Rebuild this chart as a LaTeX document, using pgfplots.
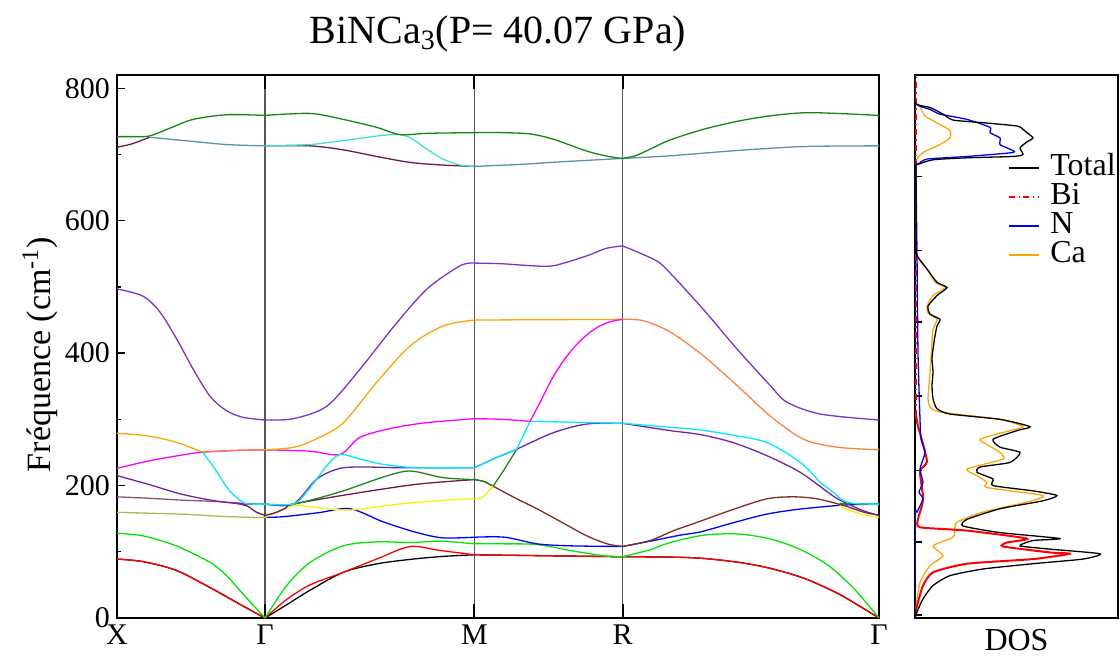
\documentclass[border=0pt]{standalone}
\usepackage{fontspec}
\setmainfont{Liberation Serif}
\usepackage{pgfplots}
\pgfplotsset{compat=1.18}
\definecolor{cLime}{RGB}{0,230,0}
\definecolor{cYel}{RGB}{255,240,0}
\definecolor{cMar}{RGB}{112,24,72}
\definecolor{cBrown}{RGB}{125,45,35}
\definecolor{cPur}{RGB}{120,32,170}
\definecolor{cDGreen}{RGB}{34,130,34}
\definecolor{cMag}{RGB}{255,0,255}
\definecolor{cCyan}{RGB}{0,235,255}
\definecolor{cOrange}{RGB}{255,165,0}
\definecolor{cCoral}{RGB}{255,128,64}
\definecolor{cBViolet}{RGB}{125,50,205}
\definecolor{cDMar}{RGB}{112,24,80}
\definecolor{cTurq}{RGB}{64,224,208}
\definecolor{cTeal}{RGB}{85,150,160}
\definecolor{cGreen}{RGB}{20,135,20}
\definecolor{cOlive}{RGB}{180,180,90}
\definecolor{cMauve}{RGB}{140,80,120}
\definecolor{cNblue}{RGB}{0,0,255}
\newcommand{\tickfont}{\fontsize{15}{18}\selectfont}
\newcommand{\bnd}[2]{\addplot[color=#1, line width=0.65pt, smooth, forget plot] coordinates {#2};}
\begin{document}
\begin{tikzpicture}
\useasboundingbox (0,0) rectangle (560pt,327.5pt);
\begin{axis}[
  at={(58.5pt,18.5pt)}, anchor=south west,
  scale only axis, width=381pt, height=271.5pt,
  xmin=0, xmax=2.5731, ymin=0, ymax=820,
  xtick={0,0.5,1.2071,1.7071,2.5731},
  xticklabels={X,Γ,M,R,Γ},
  ytick={0,200,400,600,800}, minor ytick={100,300,500,700},
  tick align=inside, ytick pos=left, xtick pos=both,
  xtick style={/pgfplots/major tick length=7pt, line width=1pt, black},
  ytick style={/pgfplots/major tick length=4pt, /pgfplots/minor tick length=2.2pt, line width=0.7pt, black},
  xmajorgrids, major x grid style={black!65, line width=0.7pt},
  tick label style={font=\tickfont},
  /pgf/number format/assume math mode=true,
  axis line style={line width=0.7pt},
  ylabel={Fréquence (cm\textsuperscript{-1})},
  ylabel style={font=\fontsize{17}{20}\selectfont, at={(axis description cs:-0.101,0.485)}, anchor=center},
  title={BiNCa\textsubscript{3}(P= 40.07 GPa)},
  title style={font=\fontsize{20}{23}\selectfont, at={(axis description cs:0.5,1)}, anchor=base, yshift=10pt},
]
% ---------- X - Gamma ----------
\bnd{black}{(0,89)(0.09,85)(0.2,72)(0.314,46)(0.426,18)(0.5,0)}
\bnd{red}{(0,89)(0.09,85)(0.2,72)(0.314,46)(0.426,18)(0.5,0)}
\bnd{cLime}{(0,128)(0.089,124)(0.2,109)(0.314,84)(0.37,64)(0.426,36)(0.5,0)}
\bnd{cOlive}{(0,159.5)(0.21,157)(0.33,154)(0.45,152)(0.5,152)}
\bnd{cMauve}{(0,183)(0.1,181)(0.22,178)(0.33,176)(0.43,173)(0.5,172)}
\bnd{cMar}{(0.40,173.5)(0.44,169)(0.47,160)(0.5,155)}
\bnd{cPur}{(0,215)(0.105,202)(0.218,187)(0.331,177)(0.43,172)(0.5,172)}
\bnd{cMag}{(0,226)(0.105,237)(0.218,246)(0.289,250.5)(0.4,253)(0.5,254)}
\bnd{cOrange}{(0,279)(0.105,275)(0.196,266)(0.252,257)(0.289,250.5)}
\bnd{cCoral}{(0.289,250.5)(0.4,253)(0.5,254)}
\bnd{cCyan}{(0.289,250.5)(0.331,225)(0.375,195)(0.409,180)(0.432,173)(0.46,172)(0.5,172)}
\bnd{cBViolet}{(0,497)(0.088,486)(0.145,462)(0.202,421)(0.257,376)(0.314,335)(0.37,313)(0.426,303)(0.5,299)}
\bnd{cDMar}{(0,711)(0.05,716)(0.11,726)}
\bnd{cTeal}{(0.11,726)(0.25,720)(0.37,715)(0.5,713)}
\bnd{cGreen}{(0,727)(0.06,727)(0.11,728)(0.18,740)(0.257,753)(0.37,760)(0.5,759)}
% ---------- Gamma - M ----------
\bnd{black}{(0.5,0)(0.573,20)(0.652,42)(0.764,69)(0.88,82)(1.0,89)(1.1,93)(1.2071,95.5)}
\bnd{red}{(0.5,0)(0.573,28)(0.652,50)(0.764,69)(0.882,90)(0.99,108)(1.09,102)(1.2071,95.5)}
\bnd{cLime}{(0.5,0)(0.573,49)(0.652,84)(0.764,109)(0.877,115)(0.99,114)(1.09,116)(1.2071,112)}
\bnd{blue}{(0.5,152)(0.562,153)(0.68,159)(0.787,165)(0.9,145)(1.013,129)(1.1,121)(1.2071,122)}
\bnd{cYel}{(0.5,152)(0.54,160)(0.6,170)(0.67,167)(0.787,163)(0.95,172)(1.125,178.5)(1.2071,180)}
\bnd{cMar}{(0.5,155)(0.535,159)(0.57,166)(0.595,172)(0.787,187)(1.013,202)(1.2071,209)}
\bnd{cPur}{(0.5,172)(0.595,172)(0.675,210)(0.753,226)(0.84,228)(0.95,227)(1.2071,227)}
\bnd{cDGreen}{(0.5,172)(0.595,172)(0.75,190)(0.9,213)(0.99,222)(1.1,212)(1.2071,209)}
\bnd{cMag}{(0.5,254)(0.65,252)(0.753,247)(0.821,273)(0.932,287)(1.046,295)(1.2071,301)}
\bnd{cOrange}{(0.5,254)(0.6,258)(0.68,272)(0.765,295)(0.877,356)(0.99,411)(1.101,441)(1.2071,450)}
\bnd{cCyan}{(0.5,172)(0.595,172)(0.64,190)(0.709,230)(0.753,247)(0.82,240)(0.899,232)(1.013,227)(1.2071,227)}
\bnd{cBViolet}{(0.5,299)(0.595,301)(0.709,320)(0.821,376)(0.936,441)(1.047,497)(1.159,532)(1.2071,536)}
\bnd{cDMar}{(0.5,713)(0.652,713)(0.764,707)(0.877,697)(0.99,688)(1.101,684)(1.2071,682)}
\bnd{cTurq}{(0.5,713)(0.652,715)(0.764,721)(0.956,730)(1.046,708)(1.101,693)(1.159,684)(1.2071,682)}
\bnd{cGreen}{(0.5,759)(0.652,762)(0.764,753)(0.877,741)(0.956,730)(1.05,732)(1.2071,733)}
% ---------- M - R ----------
\bnd{black}{(1.2071,95.5)(1.45,94)(1.7071,92.5)}
\bnd{red}{(1.2071,95.5)(1.45,94)(1.7071,92.5)}
\bnd{cLime}{(1.2071,112)(1.3,112)(1.418,111)(1.53,102)(1.643,94)(1.7071,92.5)}
\bnd{blue}{(1.2071,122)(1.31,122)(1.418,112)(1.53,109)(1.7071,108)}
\bnd{cBrown}{(1.2071,209)(1.24,206)(1.27,199)(1.35,180)(1.418,165)(1.5,145)(1.587,124)(1.655,112)(1.7071,108)}
\bnd{cDGreen}{(1.2071,209)(1.24,206)(1.27,199)}
\bnd{cYel}{(1.2071,180)(1.235,183)(1.27,199)}
\bnd{cDGreen}{(1.27,199)(1.31,226)(1.35,255)}
\bnd{cPur}{(1.2071,227)(1.27,240)(1.35,255)(1.474,280)(1.587,293)(1.7071,294)}
\bnd{cCyan}{(1.2071,227)(1.27,240)(1.35,255)}
\bnd{cCyan}{(1.35,255)(1.395,297)}
\bnd{cCyan}{(1.395,297)(1.5,296)(1.6,295)(1.7071,294)}
\bnd{cMag}{(1.2071,301)(1.3,300)(1.395,297)}
\bnd{cOrange}{(1.2071,450)(1.45,450.5)(1.7071,451)}
\bnd{cMag}{(1.395,297)(1.43,327)(1.47,362)(1.51,390)(1.55,412)(1.59,429)(1.63,441)(1.67,448)(1.7071,451)}
\bnd{cBViolet}{(1.2071,536)(1.3,535)(1.4,532)(1.474,532)(1.587,547)(1.65,558)(1.7071,562)}
\bnd{cTeal}{(1.2071,682)(1.36,685)(1.5,689)(1.7071,694)}
\bnd{cGreen}{(1.2071,733)(1.3,733)(1.395,731)(1.474,723)(1.587,705)(1.66,697)(1.7071,694)}
% ---------- R - Gamma ----------
\bnd{black}{(1.7071,92.5)(1.868,92)(1.98,90)(2.1,84)(2.206,75)(2.32,60)(2.43,38)(2.5,20)(2.5731,0)}
\bnd{red}{(1.7071,92.5)(1.868,92)(1.98,90)(2.1,84)(2.206,75)(2.32,60)(2.43,38)(2.5,20)(2.5731,0)}
\bnd{cLime}{(1.7071,92.5)(1.8,103)(1.868,114)(1.98,125)(2.094,127)(2.2,120)(2.3,105)(2.4,80)(2.487,45)(2.5731,0)}
\bnd{blue}{(1.7071,108)(1.812,117)(1.9,125)(1.97,130)(2.082,144)(2.195,157)(2.307,164.5)(2.454,170.6)(2.5731,172)}
\bnd{cBrown}{(1.7071,108)(1.8,117)(1.88,132)(1.95,143)(2.081,164)(2.195,180)(2.284,183)(2.364,180)(2.453,170)(2.52,160)(2.5731,155)}
\bnd{cYel}{(2.44,170)(2.465,164)(2.52,156)(2.5731,152)}
\bnd{cPur}{(1.7071,294)(1.868,283)(1.97,277)(2.08,265)(2.195,245)(2.307,220)(2.419,184)(2.46,174)(2.52,162)(2.5731,155)}
\bnd{cDGreen}{(2.44,173)(2.5731,172)}
\bnd{cCyan}{(1.7071,294)(1.868,288)(1.97,284)(2.08,276)(2.195,265)(2.307,235)(2.375,205)(2.419,190)(2.454,177)(2.5,172.5)(2.5731,172)}
\bnd{cCoral}{(1.7071,451)(1.777,449)(1.868,432)(1.98,396)(2.094,351)(2.206,305)(2.318,270)(2.431,258)(2.5731,254)}
\bnd{cBViolet}{(1.7071,562)(1.811,542)(1.855,527)(1.98,466)(2.094,406)(2.206,351)(2.262,326)(2.375,308)(2.5731,299)}
\bnd{cTeal}{(1.7071,694)(1.868,698)(2.094,706)(2.318,712)(2.5731,713)}
\bnd{cGreen}{(1.7071,694)(1.75,698)(1.8,708)(1.868,722)(1.98,738)(2.094,750)(2.2,758)(2.318,763)(2.431,762)(2.5731,759)}
\end{axis}
\begin{axis}[
  at={(457.5pt,18.5pt)}, anchor=south west,
  scale only axis, width=101.5pt, height=271.5pt,
  xmin=0, xmax=203, ymin=0, ymax=820,
  xtick=\empty, ytick={4.5,115,223,335,447,555,667}, yticklabels={},
  tick align=inside, ytick pos=left,
  ytick style={/pgfplots/major tick length=3.5pt, line width=0.7pt, black},
  axis line style={line width=0.7pt},
  xlabel={DOS},
  xlabel style={font=\fontsize{16}{19}\selectfont, at={(axis description cs:0.5,0)}, anchor=base, yshift=-16pt},
  legend style={at={(axis description cs:0.455,0.855)}, anchor=north west, draw=none, fill=none,
    font=\fontsize{16}{16}\selectfont, inner sep=0pt, row sep=0.5pt,
    nodes={inner sep=0.5pt, text height=10pt, text depth=3pt},
    /tikz/every odd column/.append style={column sep=5pt}},
  legend cell align=left,
  legend image code/.code={\draw[#1] (0pt,0pt) -- (15pt,0pt);},
]
\addlegendimage{draw=black, line width=0.8pt}\addlegendentry{Total}
\addlegendimage{draw=red, dash dot, line width=0.8pt}\addlegendentry{Bi}
\addlegendimage{draw=cNblue, line width=0.8pt}\addlegendentry{N}
\addlegendimage{draw=cOrange, line width=0.8pt}\addlegendentry{Ca}
% Ca
\addplot[cOrange, line width=0.65pt, smooth, tension=0.35, forget plot] coordinates {
(0,0)(1,18)(5,54)(15,79)(28,94)(18,109)(38,122)(40,134)(42,145)(68,160)(112,175)(128,185)(72,197)(72,205)(62,215)(52,225)(88,240)(85,250)(72,262)(65,270)(95,283)(108,289)(85,300)(25,311)(15,319)(13,331)(15,371)(17,416)(18,436)(22,451)(13,461)(12,471)(18,487)(30,499)(20,507)(12,527)(2,547)(1,600)(1,683)(2,693)(8,703)(25,715)(35,725)(35,736)(28,743)(10,758)(5,773)(0,778)(0,820)};
% Bi
\addplot[red, line width=1pt, smooth, tension=0.35, forget plot] coordinates {
(0,0)(2,18)(8,49)(18,69)(52,82)(118,89)(155,97)(135,99)(88,108)(92,114)(112,120)(52,132)(5,137)(3,149)(7,170)(8,185)(5,222)(12,237)(3,290)(1,305)};
\addplot[red, line width=0.8pt, dash dot, forget plot] coordinates {(1.2,305)(1.2,820)};
% N
\addplot[blue, line width=0.65pt, smooth, tension=0.35, forget plot] coordinates {
(0,0)(0,155)(2,160)(8,180)(4,190)(8,205)(5,225)(10,250)(6,270)(5,300)(3,400)(2,550)(1,680)(3,685)(12,693)(52,697)(98,703)(95,708)(85,715)(85,725)(75,733)(75,741)(52,753)(25,761)(15,768)(0,778)(0,820)};
% Total
\addplot[black, line width=0.65pt, smooth, tension=0.35, forget plot] coordinates {
(0,0)(2,9)(8,29)(18,49)(35,64)(68,74)(118,82)(168,89)(185,97)(135,104)(105,109)(118,117)(145,120)(85,129)(48,139)(52,149)(85,165)(128,177)(142,185)(118,192)(78,200)(78,210)(62,220)(65,228)(95,235)(105,250)(85,258)(78,270)(102,283)(115,289)(85,300)(35,308)(22,316)(18,331)(17,351)(18,371)(17,391)(18,406)(20,426)(22,441)(25,451)(15,459)(13,471)(22,487)(32,499)(22,507)(12,527)(2,547)(1,557)(1,600)(1,680)(3,685)(18,692)(52,695)(98,697)(108,700)(105,710)(112,719)(118,725)(112,733)(108,738)(102,743)(68,748)(38,752)(28,761)(15,771)(0,778)(0,820)};
\end{axis}
\end{tikzpicture}
\end{document}
